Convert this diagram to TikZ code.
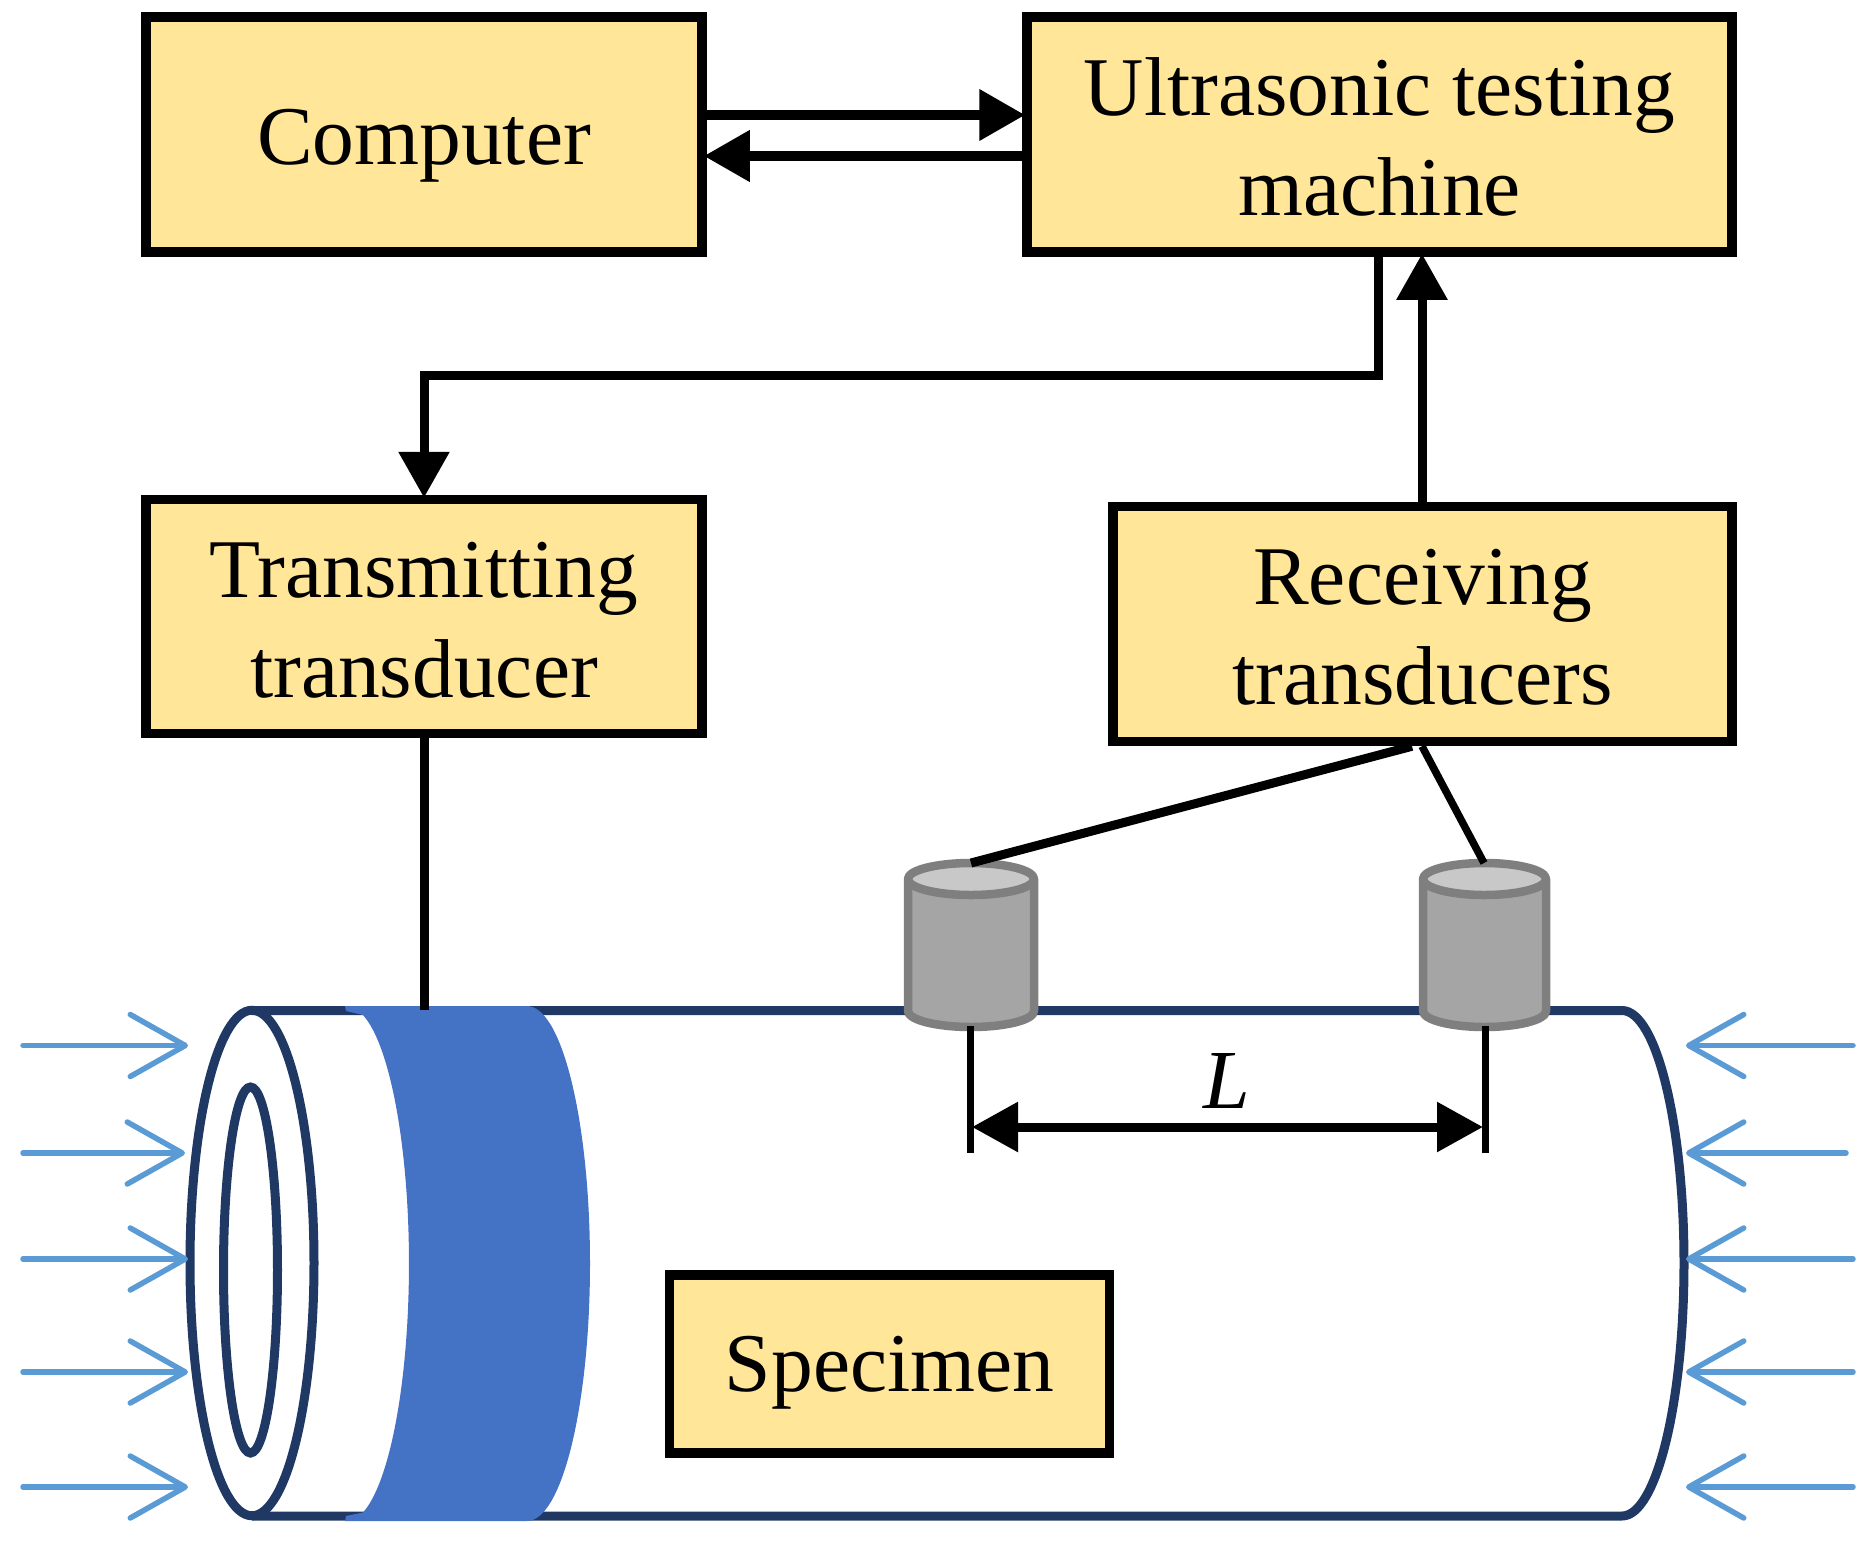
\documentclass[tikz,border=0pt]{standalone}
\usepackage{fontspec}
\setmainfont{Liberation Serif}
\usetikzlibrary{arrows.meta}
\definecolor{boxfill}{HTML}{FFE699}
\definecolor{tube}{HTML}{1F3864}
\definecolor{band}{HTML}{4472C4}
\definecolor{press}{HTML}{5B9BD5}
\definecolor{cylstroke}{HTML}{7F7F7F}
\definecolor{cylbody}{HTML}{A5A5A5}
\definecolor{cyltop}{HTML}{C8C8C8}
\newcommand{\lbl}[2]{\smash{\raisebox{#1pt}{\begin{tabular}[b]{@{}c@{}}#2\end{tabular}}}}
\tikzset{
  box/.style={draw=black,line width=9.5pt,fill=boxfill,inner sep=0pt,font=\fontsize{83.5}{100}\selectfont},
  conn/.style={draw=black,line width=9pt},
  head/.style={-{Triangle[length=46pt,width=49pt]},shorten >=-3pt},
  tubeline/.style={draw=tube,line width=9pt},
  pressarrow/.style={draw=press,line width=5.5pt,line cap=round,-{Straight Barb[length=55pt,width=62pt,line width=5.5pt,round]}},
  cyl/.style={draw=cylstroke,line width=8.5pt,line join=round},
}
\begin{document}
\begin{tikzpicture}[x=1pt,y=-1pt]
\useasboundingbox (0,0) rectangle (1875,1542);
% specimen
\path[tubeline] (252,1516) -- (1622,1516)
  arc[start angle=-90,end angle=90,x radius=62pt,y radius=252.75pt] -- (252,1010.5);
\fill[band] (345,1006) -- (346,1011) -- (363,1015) arc[start angle=75,end angle=-75,x radius=62pt,y radius=257.5pt]
  -- (346,1516) -- (345,1521) -- (527,1521) arc[start angle=-90,end angle=90,x radius=63pt,y radius=257.5pt] -- cycle;
\path[tubeline] (252,1263) ellipse [x radius=62pt,y radius=252.75pt];
\path[tubeline] (250.5,1270) ellipse [x radius=27pt,y radius=183pt];
% boxes
\node[box,minimum width=556pt,minimum height=235pt] (comp) at (424,134.5) {\lbl{-29.5}{Computer}};
\node[box,minimum width=705pt,minimum height=235pt] (utm) at (1379.5,134.5) {\lbl{-80.5}{Ultrasonic testing\\machine}};
\node[box,minimum width=556pt,minimum height=234pt] (tx) at (424,616.5) {\lbl{-80.5}{Transmitting\\transducer}};
\node[box,minimum width=619pt,minimum height=235pt] (rx) at (1422.5,624) {\lbl{-80}{Receiving\\transducers}};
\node[box,minimum width=440pt,minimum height=178pt] (spec) at (889.5,1364) {\lbl{-27}{Specimen}};
% transducer cylinders
\coordinate (c1top) at (971,863);
\coordinate (c2top) at (1484,863);
\coordinate (c1bot) at (970,1026);
\coordinate (c2bot) at (1485,1026);
\path[cyl,fill=cylbody] (908,879) -- (908,1011) arc[start angle=180,end angle=360,x radius=63pt,y radius=16pt] -- (1034,879) -- cycle;
\path[cyl,fill=cyltop] (971,879) ellipse [x radius=63pt,y radius=16pt];
\path[cyl,fill=cylbody] (1423,879) -- (1423,1011) arc[start angle=180,end angle=360,x radius=61.5pt,y radius=16pt] -- (1546,879) -- cycle;
\path[cyl,fill=cyltop] (1484.5,879) ellipse [x radius=61.5pt,y radius=16pt];
% connectors
\draw[conn,head,line width=10.5pt] (comp.east |- 0,115) -- (utm.west |- 0,115);
\draw[conn,head,line width=10.5pt] (utm.west |- 0,156) -- (comp.east |- 0,156);
\draw[conn,head] (utm.south -| 1378,0) |- (0,375 -| tx.north) -- (tx.north);
\draw[conn,head] (rx.north -| 1422,0) -- (utm.south -| 1422,0);
\draw[conn] (tx.south) -- (tx.south |- 0,1010);
\draw[conn] (rx.south -| 1412,0) -- (c1top);
\draw[conn,line width=7.5pt] (rx.south -| 1422,0) -- (c2top);
\draw[draw=black,line width=7pt] (c1bot) -- (c1bot |- 0,1153);
\draw[draw=black,line width=7pt] (c2bot) -- (c2bot |- 0,1153);
\draw[conn,{Triangle[length=46pt,width=48pt]}-{Triangle[length=46pt,width=48pt]}] (972,1127) -- (1483,1127);
\node[anchor=base,inner sep=0pt,font=\fontsize{84}{100}\selectfont\itshape] (len) at (1227,1108) {L};
% pressure arrows
\foreach \n/\yy/\lt/\rs in {a/1045.5/188/1853,b/1153/185/1846,c/1259/188/1853,d/1372/188/1853,e/1487/188/1853}{
  \coordinate (l\n s) at (23,\yy);
  \coordinate (l\n e) at (\lt,\yy);
  \coordinate (r\n s) at (\rs,\yy);
  \coordinate (r\n e) at (1686,\yy);
  \draw[pressarrow] (l\n s) -- (l\n e);
  \draw[pressarrow] (r\n s) -- (r\n e);
}
\end{tikzpicture}
\end{document}
